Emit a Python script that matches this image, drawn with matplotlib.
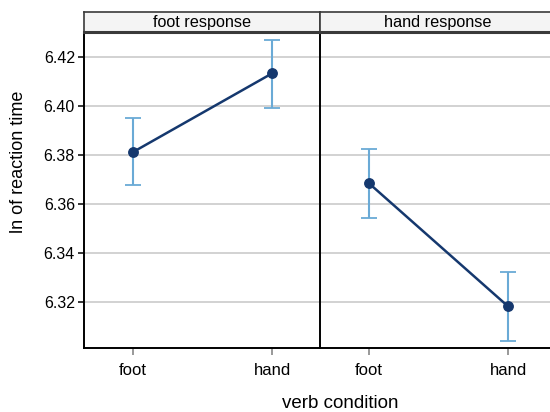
import matplotlib
matplotlib.use("Agg")
import matplotlib.pyplot as plt

plt.rcParams['font.family'] = ['Liberation Sans', 'DejaVu Sans']

panels = ["foot response", "hand response"]
verbs = ["foot", "hand"]
means = [[6.3812, 6.4133], [6.3684, 6.3182]]
ci_low = [[6.3678, 6.3992], [6.3543, 6.3041]]
ci_high = [[6.3951, 6.4271], [6.3825, 6.3322]]
yticks = [6.32, 6.34, 6.36, 6.38, 6.40, 6.42]

W, H = 550, 412
fig = plt.figure(figsize=(W / 100, H / 100), dpi=100)

line_col = "#15386e"
err_col = "#6aaad6"
grid_col = "#c6c6c6"

left0, pw = 84, 236
top_plot, bot_plot = 32, 348
strip_top = 12

for i, name in enumerate(panels):
    x0 = left0 + i * pw
    ax = fig.add_axes([x0 / W, 1 - bot_plot / H, pw / W, (bot_plot - top_plot) / H])
    xs = [0, 1]
    lo = [means[i][k] - ci_low[i][k] for k in range(2)]
    hi = [ci_high[i][k] - means[i][k] for k in range(2)]
    ax.errorbar(xs, means[i], yerr=[lo, hi], fmt="none", ecolor=err_col,
                elinewidth=1.5, capsize=5.5, capthick=1.3, zorder=2)
    ax.plot(xs, means[i], color=line_col, lw=1.8, marker="o", ms=6.8, zorder=3)
    ax.set_xlim(-0.353, 1.345)
    ax.set_ylim(6.3012, 6.4302)
    ax.set_yticks(yticks)
    ax.yaxis.grid(True, color=grid_col, lw=1.1)
    ax.set_axisbelow(True)
    ax.set_xticks(xs)
    ax.set_xticklabels(verbs, fontsize=12)
    ax.tick_params(axis="x", length=5, color="#888888", width=1.2, pad=6)
    for s in ["top", "right"]:
        ax.spines[s].set_visible(False)
    ax.spines["left"].set_linewidth(1.4)
    ax.spines["bottom"].set_linewidth(1.4)
    if i == 0:
        ax.set_yticklabels(["%.2f" % t for t in yticks], fontsize=11.5)
        ax.tick_params(axis="y", length=4.5, width=1.1, pad=2)
    else:
        ax.tick_params(axis="y", length=0, labelleft=False)

    sax = fig.add_axes([x0 / W, 1 - top_plot / H, pw / W, (top_plot - strip_top) / H])
    sax.set_facecolor("#f4f4f4")
    sax.set_xticks([])
    sax.set_yticks([])
    for s in sax.spines.values():
        s.set_color("#3a3a3a")
        s.set_linewidth(1.2)
    sax.spines["bottom"].set_linewidth(2.2)
    sax.text(0.5, 0.45, name, ha="center", va="center", fontsize=11.7,
             transform=sax.transAxes)

fig.text(19 / W, 1 - 162 / H, "ln of reaction time", rotation=90,
         ha="center", va="center", fontsize=13)
fig.text(340 / W, 1 - 404 / H, "verb condition", ha="center", va="center",
         fontsize=13.5)

fig.savefig("out.png", dpi=100)
